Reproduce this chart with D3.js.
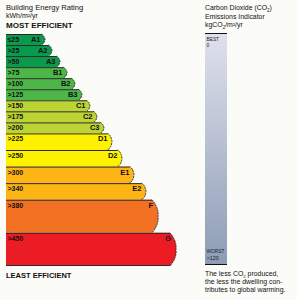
<!DOCTYPE html>
<html>
<head>
<meta charset="utf-8">
<script src="https://cdn.jsdelivr.net/npm/d3@7"></script>
<style>
  body { margin: 0; background: #fbfbf7; }
  svg { display: block; font-family: "Liberation Sans", Arial, sans-serif; }
</style>
</head>
<body>
<div id="chart"></div>
<script>
// energy bands
var grades = ["A1","A2","A3","B1","B2","B3","C1","C2","C3","D1","D2","E1","E2","F","G"];
var thresholds = ["\u226425",">25",">50",">75",">100",">125",">150",">175",">200",">225",">250",">300",">340",">380",">450"];
var barLength = [39,46,54,61,69,76,84,91,98,106,116,128,140,152,170];
var rowSpan = [1,1,1,1,1,1,1,1,1,1.5,1.5,1.5,1.5,3,3];
var colors = ["#0a9a4c","#0a9a4c","#0a9a4c","#4cb648","#4cb648","#4cb648","#bcd433","#bcd433","#bcd433",
              "#fff200","#fff200","#fdb515","#fdb515","#f37122","#ec1c24"];
var co2Range = ["0", ">120"];

var W = 297, H = 300;
var svg = d3.select("#chart").append("svg").attr("width", W).attr("height", H);
svg.append("rect").attr("width", W).attr("height", H).attr("fill", "#fbfbf7");

var total = d3.sum(rowSpan);
var y = d3.scaleLinear().domain([0, total]).range([34, 266]);
var x = d3.scaleLinear().domain([0, 170]).range([6, 176]);

var rows = [];
var acc = 0;
for (var i = 0; i < grades.length; i++) {
  rows.push({grade: grades[i], label: thresholds[i], len: barLength[i], top: acc, bot: acc + rowSpan[i], color: colors[i], span: rowSpan[i]});
  acc += rowSpan[i];
}

function depthOf(d) { return d.span >= 3 ? 6 : (d.span > 1 ? 5 : 4); }

function edge(d) {
  var t = y(d.top), b = y(d.bot), m = (t + b) / 2;
  var tip = x(d.len), xb = tip - depthOf(d);
  if (d.span >= 3) {
    return "Q" + (tip + 1) + "," + (t + (b - t) * 0.25) + " " + tip + "," + m +
      "Q" + (tip + 1) + "," + (t + (b - t) * 0.75) + " " + xb + "," + b;
  }
  return "Q" + (tip - 1) + "," + (t + 1) + " " + tip + "," + m +
    "Q" + (tip - 1) + "," + (b - 1) + " " + xb + "," + b;
}

var g = svg.append("g");
var bars = g.selectAll(".band").data(rows).enter().append("g").attr("class", "band");

bars.append("path")
  .attr("d", function(d) {
    var xb = x(d.len) - depthOf(d);
    return "M" + x(0) + "," + y(d.top) + "H" + xb + edge(d) + "H" + x(0) + "Z";
  })
  .attr("fill", function(d) { return d.color; });

// arrow outline
bars.append("path")
  .attr("d", function(d) { return "M" + (x(d.len) - depthOf(d)) + "," + y(d.top) + edge(d); })
  .attr("fill", "none")
  .attr("stroke", "#222")
  .attr("stroke-width", 0.9)
  .attr("stroke-dasharray", "2,0.8");

// top edge line
bars.append("line")
  .attr("x1", x(0))
  .attr("x2", function(d) { return x(d.len) - depthOf(d); })
  .attr("y1", function(d) { return y(d.top) + 0.5; })
  .attr("y2", function(d) { return y(d.top) + 0.5; })
  .attr("stroke", "#2a2a2a")
  .attr("stroke-width", 1);

bars.append("text")
  .attr("x", x(0) + 1.5)
  .attr("y", function(d) { return y(d.top) + 8; })
  .attr("font-size", 7)
  .attr("font-weight", "bold")
  .attr("fill", "#111")
  .text(function(d) { return d.label; });

bars.append("text")
  .attr("x", function(d) { return x(d.len) - (d.span >= 3 ? 5 : 4.5); })
  .attr("y", function(d) { return y(d.top) + 8; })
  .attr("text-anchor", "end")
  .attr("font-size", 7.5)
  .attr("font-weight", "bold")
  .attr("fill", "#111")
  .text(function(d) { return d.grade; });

// bottom line of G
svg.append("line")
  .attr("x1", x(0)).attr("x2", x(barLength[barLength.length - 1]) - 6)
  .attr("y1", y(total) - 0.5).attr("y2", y(total) - 0.5)
  .attr("stroke", "#2a2a2a").attr("stroke-width", 1);

// titles
svg.append("text").attr("x", 6).attr("y", 10).attr("font-size", 7.6).attr("fill", "#111").text("Building Energy Rating");
svg.append("text").attr("x", 6).attr("y", 18).attr("font-size", 7).attr("fill", "#111").text("kWh/m\u00b2/yr");
svg.append("text").attr("x", 6).attr("y", 28).attr("font-size", 8).attr("font-weight", "bold").attr("fill", "#111").text("MOST EFFICIENT");
svg.append("text").attr("x", 6).attr("y", 278).attr("font-size", 7.5).attr("font-weight", "bold").attr("fill", "#111").text("LEAST EFFICIENT");

// CO2 panel
var px = 205;
var head = svg.append("text").attr("x", px).attr("y", 10).attr("font-size", 6.9).attr("fill", "#111");
head.append("tspan").text("Carbon Dioxide (CO");
head.append("tspan").attr("font-size", 4.5).attr("dy", 1.5).text("2");
head.append("tspan").attr("dy", -1.5).text(")");
svg.append("text").attr("x", px).attr("y", 18.5).attr("font-size", 6.9).attr("fill", "#111").text("Emissions Indicator");
var unit = svg.append("text").attr("x", px).attr("y", 27).attr("font-size", 6.9).attr("fill", "#111");
unit.append("tspan").text("kgCO");
unit.append("tspan").attr("font-size", 4.5).attr("dy", 1.5).text("2");
unit.append("tspan").attr("dy", -1.5).text("/m\u00b2/yr");

var defs = svg.append("defs");
var grad = defs.append("linearGradient").attr("id", "co2g").attr("x1", 0).attr("y1", 0).attr("x2", 0).attr("y2", 1);
grad.append("stop").attr("offset", "0%").attr("stop-color", "#dfe1ec");
grad.append("stop").attr("offset", "100%").attr("stop-color", "#8d9cb6");

var cy = d3.scaleLinear().domain([0, 1]).range([33, 265]);
svg.append("rect").attr("x", px).attr("y", cy(0)).attr("width", 22).attr("height", cy(1) - cy(0)).attr("fill", "url(#co2g)");
svg.append("line").attr("x1", px).attr("x2", px + 22).attr("y1", cy(0) + 0.5).attr("y2", cy(0) + 0.5).attr("stroke", "#111");
svg.append("line").attr("x1", px).attr("x2", px + 22).attr("y1", cy(1) - 0.5).attr("y2", cy(1) - 0.5).attr("stroke", "#111");

svg.append("text").attr("x", px + 1.5).attr("y", 41).attr("font-size", 4.8).attr("fill", "#222").text("BEST");
svg.append("text").attr("x", px + 1.5).attr("y", 47).attr("font-size", 4.8).attr("fill", "#222").text(co2Range[0]);
svg.append("text").attr("x", px + 1.5).attr("y", 253).attr("font-size", 4.8).attr("fill", "#222").text("WORST");
svg.append("text").attr("x", px + 1.5).attr("y", 260).attr("font-size", 5.5).attr("fill", "#222").text(co2Range[1]);

var note = svg.append("text").attr("font-size", 6.9).attr("fill", "#111");
var l1 = note.append("tspan").attr("x", px).attr("y", 276);
l1.append("tspan").text("The less CO");
l1.append("tspan").attr("font-size", 4.3).attr("dy", 1.5).text("2");
l1.append("tspan").attr("dy", -1.5).text(" produced,");
note.append("tspan").attr("x", px).attr("y", 284).text("the less the dwelling con-");
note.append("tspan").attr("x", px).attr("y", 292).text("tributes to global warming.");
</script>
</body>
</html>
